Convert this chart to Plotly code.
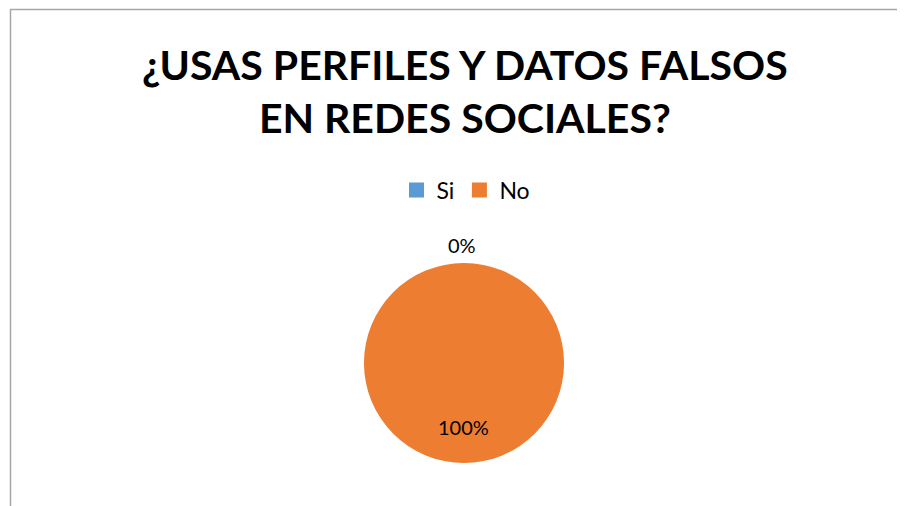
import plotly.graph_objects as go

categories = ["Si", "No"]
values = [0, 100]
colors = ["#5B9BD5", "#ED7D31"]
title_text = "¿USAS PERFILES Y DATOS FALSOS<br>EN REDES SOCIALES?"

W, H = 905, 506
OFF = 8  # browser body margin offset
total = sum(values)
pct = [f"{v / total * 100:.0f}%" for v in values]


def px_x(x):
    return (x - OFF) / W


def px_y(y):
    return 1 - (y - OFF) / H


fig = go.Figure()
fig.add_trace(go.Pie(
    labels=categories,
    values=values,
    marker=dict(colors=colors, line=dict(width=0)),
    textinfo="none",
    sort=False,
    direction="clockwise",
    rotation=0,
    domain=dict(x=[px_x(364), px_x(564)], y=[px_y(463), px_y(263)]),
    showlegend=False,
))

# legend entries (square swatches) for the categories; points sit outside the hidden axis range
for name, c in zip(categories, colors):
    fig.add_trace(go.Scatter(
        x=[-10], y=[-10], mode="markers", name=name,
        marker=dict(symbol="square", size=15, color=c),
        showlegend=True, hoverinfo="skip", cliponaxis=True,
    ))

label_pos = [(462, 245), (464, 427)]
annotations = []
for t, (lx, ly) in zip(pct, label_pos):
    annotations.append(dict(
        text=t, x=px_x(lx), y=px_y(ly), xref="paper", yref="paper",
        showarrow=False, xanchor="center", yanchor="middle",
        font=dict(family="Lato", size=20, color="#000000"),
    ))

annotations.append(dict(
    text=title_text, x=px_x(465), y=px_y(91), xref="paper", yref="paper",
    showarrow=False, xanchor="center", yanchor="middle", align="center",
    font=dict(family="Lato", size=41, color="#000000", weight="bold"),
))

fig.update_layout(
    width=W, height=H,
    margin=dict(l=0, r=0, t=0, b=0),
    paper_bgcolor="white",
    plot_bgcolor="white",
    xaxis=dict(visible=False, range=[0, 1], fixedrange=True),
    yaxis=dict(visible=False, range=[0, 1], fixedrange=True),
    legend=dict(
        orientation="h",
        x=px_x(466), xanchor="center",
        y=px_y(190), yanchor="middle",
        font=dict(family="Lato", size=23, color="#000000"),
        itemwidth=30,
        traceorder="normal",
        bgcolor="rgba(0,0,0,0)",
    ),
    annotations=annotations,
    shapes=[
        dict(type="line", xref="paper", yref="paper",
             x0=px_x(10), x1=1, y0=px_y(9.5), y1=px_y(9.5),
             line=dict(color="#A6A6A6", width=1.5)),
        dict(type="line", xref="paper", yref="paper",
             x0=px_x(10.5), x1=px_x(10.5), y0=0, y1=px_y(9.5),
             line=dict(color="#A6A6A6", width=1.5)),
    ],
)

fig.write_html("out.html")
